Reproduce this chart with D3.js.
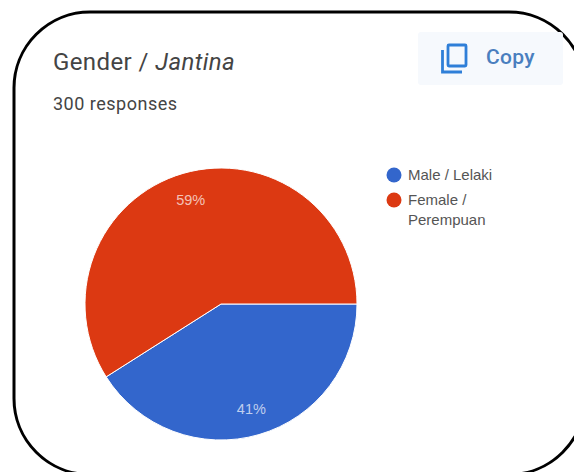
<!DOCTYPE html>
<html>
<head>
<meta charset="utf-8">
<script src="https://cdn.jsdelivr.net/npm/d3@7/dist/d3.min.js"></script>
<style>
html,body{margin:0;padding:0;background:#fff;overflow:hidden}
svg{display:block;font-family:Roboto,Arial,sans-serif}
.chart-text{font-family:"Liberation Sans",Arial,sans-serif}
</style>
</head>
<body>
<svg id="chart" width="574" height="472"></svg>
<script>
const categories = ["Male / Lelaki", "Female / Perempuan"];
const legendLines = [["Male / Lelaki"], ["Female /", "Perempuan"]];
const shares = [41, 59];
const colors = ["#3366cc", "#dc3912"];

const svg = d3.select("#chart");

// Card outline
svg.append("rect")
  .attr("x", 14).attr("y", 12).attr("width", 571).attr("height", 462.5)
  .attr("rx", 76).attr("ry", 76)
  .attr("fill", "#fff").attr("stroke", "#000").attr("stroke-width", 3);

// Heading
const title = svg.append("text").attr("x", 53).attr("y", 70)
  .attr("font-size", 24).attr("letter-spacing", 0.4).attr("fill", "#444");
title.append("tspan").text("Gender / ");
title.append("tspan").attr("font-style", "italic").text("Jantina");

svg.append("text").attr("x", 53).attr("y", 110)
  .attr("font-size", 18).attr("letter-spacing", 0.5).attr("fill", "#444").text("300 responses");

// Copy button
svg.append("rect").attr("x", 418).attr("y", 32).attr("width", 145).attr("height", 53)
  .attr("rx", 3).attr("fill", "#f6f9fd");
const icon = svg.append("g").attr("fill", "none").attr("stroke", "#2f7fd8").attr("stroke-width", 2.8);
icon.append("rect").attr("x", 448).attr("y", 45).attr("width", 18).attr("height", 21).attr("rx", 1);
icon.append("path").attr("d", "M442.5 50V72H462");
svg.append("text").attr("x", 486).attr("y", 64)
  .attr("font-size", 21).attr("font-weight", 500).attr("letter-spacing", 0.3)
  .attr("fill", "#4a7fbf").text("Copy");

// Pie, starting at three o'clock and running clockwise
const radius = 136;
const pieGroup = svg.append("g").attr("transform", "translate(221,304)");
const pie = d3.pie().sort(null)
  .startAngle(Math.PI / 2).endAngle(Math.PI / 2 + 2 * Math.PI);
const arc = d3.arc().innerRadius(0).outerRadius(radius);
const labelArc = d3.arc().innerRadius(radius * 0.8).outerRadius(radius * 0.8);
const slices = pie(shares);

pieGroup.selectAll("path").data(slices).join("path")
  .attr("d", arc)
  .attr("fill", (d, i) => colors[i])
  .attr("stroke", "#fff").attr("stroke-width", 1);

pieGroup.selectAll("text").data(slices).join("text")
  .attr("class", "chart-text")
  .attr("transform", d => `translate(${labelArc.centroid(d)})`)
  .attr("text-anchor", "middle").attr("dy", "0.35em")
  .attr("font-size", 14.5).attr("fill", "#fff").attr("fill-opacity", 0.7)
  .text(d => d.data + "%");

// Legend
const legendY = d3.scaleOrdinal().domain(categories).range([175, 200]);
const legend = svg.append("g");
const entries = legend.selectAll("g").data(categories).join("g")
  .attr("transform", d => `translate(394,${legendY(d)})`);
entries.append("circle").attr("r", 7.5).attr("fill", (d, i) => colors[i]);
entries.each(function (d, i) {
  d3.select(this).selectAll("text").data(legendLines[i]).join("text")
    .attr("class", "chart-text")
    .attr("x", 14).attr("y", (t, j) => 5 + j * 20)
    .attr("font-size", 15).attr("fill", "#555").text(t => t);
});
</script>
</body>
</html>
